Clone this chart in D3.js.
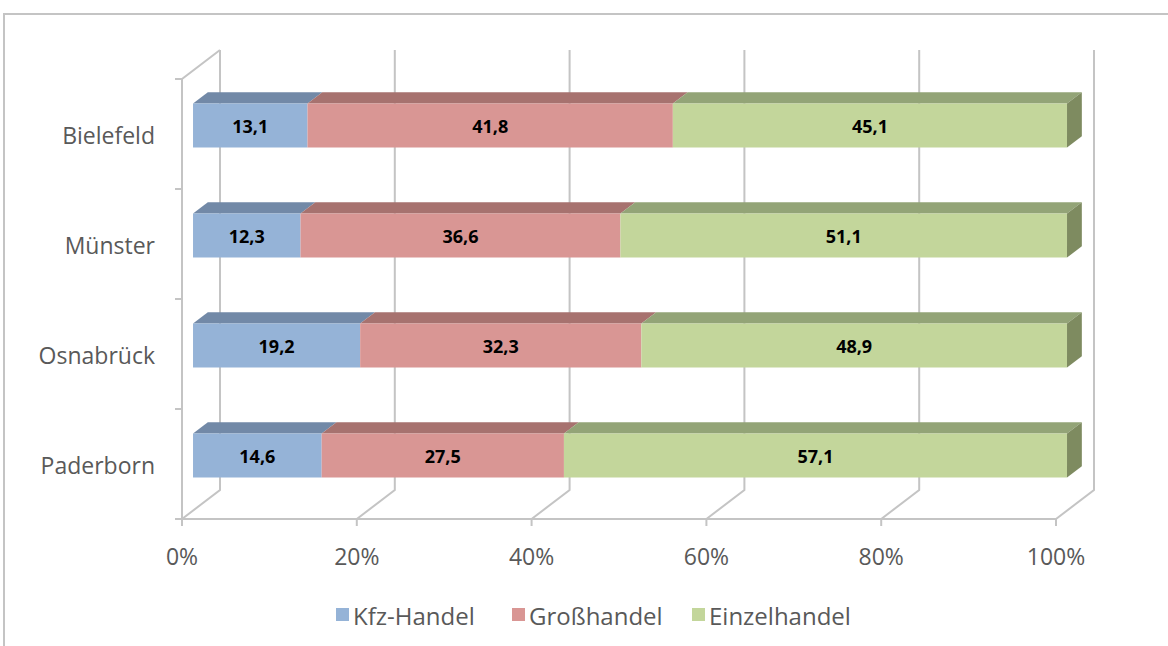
<!DOCTYPE html>
<html>
<head>
<meta charset="utf-8">
<script src="https://cdn.jsdelivr.net/npm/d3@7"></script>
<style>
  body { margin: 0; background: #fff; }
  svg { display: block; font-family: "Open Sans", "Noto Sans", sans-serif; }
  .cat, .tick_text { fill: #595959; font-size: 23px; }
  .legend_text { fill: #595959; font-size: 24px; }
  .val { fill: #000; font-size: 18px; font-weight: bold; }
</style>
</head>
<body>
<svg id="chart"></svg>
<script>
// data
const cities = ['Bielefeld', 'Münster', 'Osnabrück', 'Paderborn'];
const series = ['Kfz-Handel', 'Großhandel', 'Einzelhandel'];
const kfz = [13.1, 12.3, 19.2, 14.6];
const gross = [41.8, 36.6, 32.3, 27.5];
const einzel = [45.1, 51.1, 48.9, 57.1];
const ticks = [0, 20, 40, 60, 80, 100];

const front = ['#95B3D7', '#D99694', '#C3D69B'];
const top_c = ['#7289A7', '#A7726F', '#93A477'];
const side_c = ['#5E7391', '#8C5E5B', '#7E8B60'];

const W = 1168, H = 646;
const depthX = 38, depthY = -29;     // full depth of the 3D box
const barZ0 = 0.29, barZ1 = 0.68;     // bar depth inside the box

const svg = d3.select("#chart").attr("width", W).attr("height", H);

// chart area border
svg.append("rect").attr("x", 4).attr("y", 14).attr("width", W + 10).attr("height", H + 10)
    .attr("fill", "none").attr("stroke", "#C4C4C4").attr("stroke-width", 2);

var x = d3.scaleLinear().domain([0, 100]).range([182, 1056]);
var y = d3.scaleBand().domain(cities).range([79, 519]).paddingInner(0.6).paddingOuter(0.3);

// project a point (value, screen y on front plane, depth 0..1)
function P(v, yy, z) {
    return [x(v) + depthX * z, yy + depthY * z];
}
function poly(pts) {
    return "M" + pts.map(function(p) { return p.join(","); }).join("L") + "Z";
}

var grid = svg.append("g").attr("class", "grid")
    .attr("stroke", "#C4C4C4").attr("stroke-width", 2).attr("fill", "none");

// back wall gridlines
ticks.forEach(function(t) {
    let a = P(t, 79, 1), b = P(t, 519, 1), c = P(t, 519, 0);
    grid.append("path").attr("d", "M" + a + "L" + b + "L" + c);
    // tick mark under front axis
    grid.append("line").attr("x1", c[0]).attr("x2", c[0]).attr("y1", c[1]).attr("y2", c[1] + 7);
});

// front axis lines + left wall
let fl = P(0, 79, 0), fb = P(0, 519, 0), fr = P(100, 519, 0), bt = P(0, 79, 1);
grid.append("path").attr("d", "M" + bt + "L" + fl + "L" + fb + "L" + fr);

// category tick marks on left axis
[79, 189, 299, 409, 519].forEach(function(yy) {
    grid.append("line").attr("x1", 175).attr("x2", 182).attr("y1", yy).attr("y2", yy);
});

// bars
var fmt = d3.formatLocale({ decimal: ",", thousands: ".", grouping: [3], currency: ["", "€"] }).format(".1f");
var rows = cities.map(function(c, i) { return [kfz[i], gross[i], einzel[i]]; });

var bar = svg.selectAll("g.bar")
    .data(rows)
    .enter()
    .append("g")
    .attr("class", "bar");

bar.each(function(vals, i) {
    let g = d3.select(this);
    let total = d3.sum(vals);
    let y0 = y(cities[i]), y1 = y0 + y.bandwidth();
    let acc = 0;
    vals.forEach(function(v, k) {
        let a = acc / total * 100, b = (acc + v) / total * 100;
        acc += v;
        // top face
        g.append("path")
            .attr("d", poly([P(a, y0, barZ0), P(b, y0, barZ0), P(b, y0, barZ1), P(a, y0, barZ1)]))
            .attr("fill", top_c[k]);
        // front face
        g.append("path")
            .attr("d", poly([P(a, y0, barZ0), P(b, y0, barZ0), P(b, y1, barZ0), P(a, y1, barZ0)]))
            .attr("fill", front[k]);
        if (k == vals.length - 1) {
            g.append("path")
                .attr("d", poly([P(b, y0, barZ0), P(b, y0, barZ1), P(b, y1, barZ1), P(b, y1, barZ0)]))
                .attr("fill", side_c[k]);
        }
        let c = P((a + b) / 2, (y0 + y1) / 2, barZ0);
        g.append("text")
            .attr("class", "val")
            .attr("x", c[0]).attr("y", c[1])
            .attr("text-anchor", "middle")
            .attr("dominant-baseline", "central")
            .text(fmt(v));
    });
});

// category labels
svg.selectAll("text.cat")
    .data(cities)
    .enter()
    .append("text")
    .attr("class", "cat")
    .attr("x", 155)
    .attr("y", function(d) { return y(d) + y.bandwidth() / 2 + 1; })
    .attr("text-anchor", "end")
    .attr("dominant-baseline", "central")
    .text(function(d) { return d; });

// value axis labels
svg.selectAll("text.tick_text")
    .data(ticks)
    .enter()
    .append("text")
    .attr("class", "tick_text")
    .attr("x", function(d) { return x(d); })
    .attr("y", 556)
    .attr("text-anchor", "middle")
    .attr("dominant-baseline", "central")
    .text(function(d) { return d + "%"; });

// legend
var legX = [336, 512, 692];
var leg = svg.selectAll("g.legend")
    .data(series)
    .enter()
    .append("g")
    .attr("class", "legend")
    .attr("transform", function(d, i) { return "translate(" + legX[i] + ",615)"; });

leg.append("rect").attr("x", 0).attr("y", -7).attr("width", 13).attr("height", 13)
    .attr("fill", function(d, i) { return front[i]; });
leg.append("text").attr("class", "legend_text")
    .attr("x", 17).attr("y", 0)
    .attr("dominant-baseline", "central")
    .text(function(d) { return d; });
</script>
</body>
</html>
